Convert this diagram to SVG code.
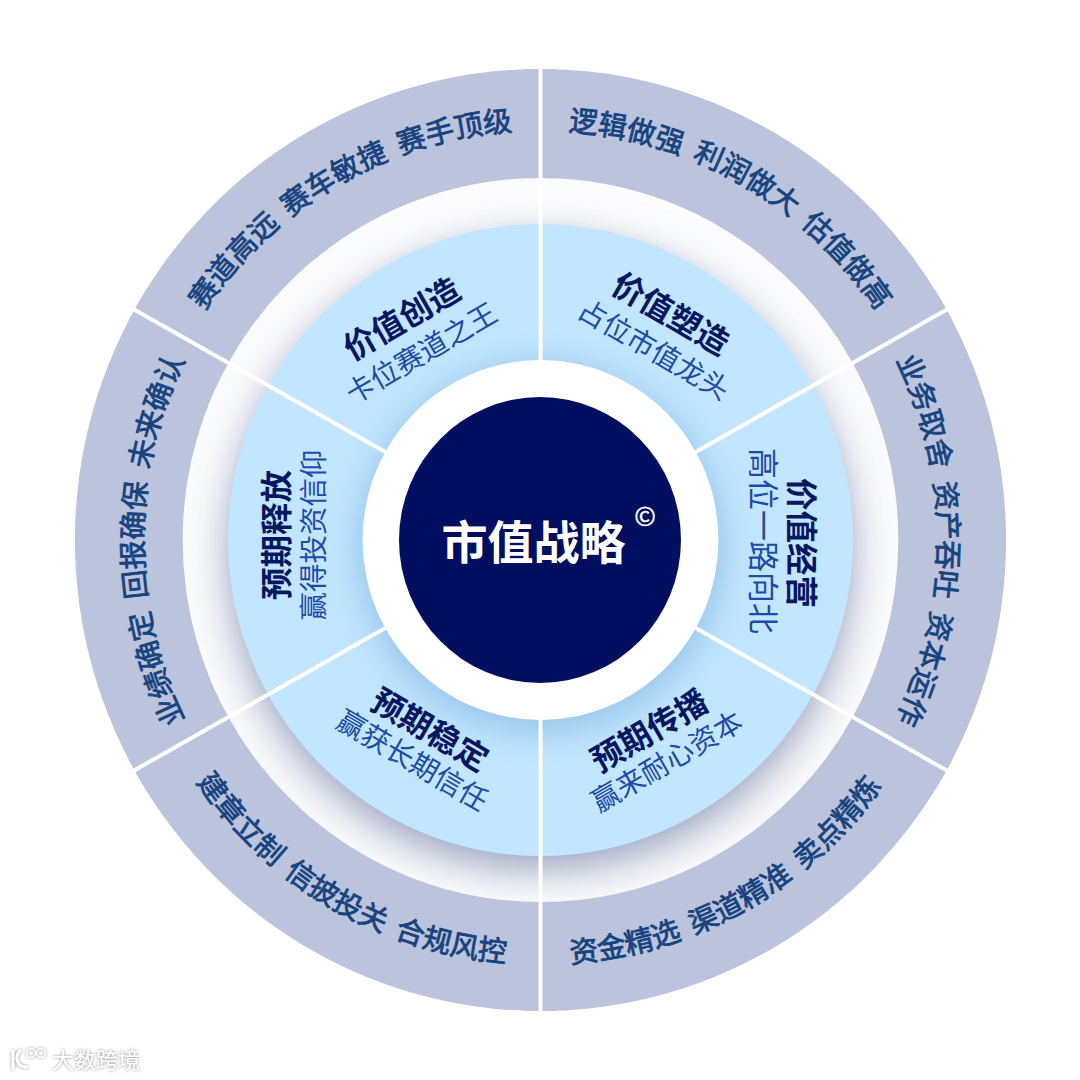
<svg xmlns="http://www.w3.org/2000/svg" width="1080" height="1080" viewBox="0 0 1080 1080">
<style>
text{font-family:"Noto Sans CJK SC","Noto Sans",sans-serif}
.sec{fill:#BBC4DC}
.out{font-size:29px;font-weight:400;fill:#17437F;stroke:#17437F;stroke-width:.8px;text-anchor:middle;word-spacing:6px}
.b{font-size:32.5px;font-weight:700;fill:#06175F;text-anchor:middle}
.s{font-size:28.5px;font-weight:400;fill:#1E4BA8;text-anchor:middle}
.div{stroke:#fff;stroke-width:4;fill:none}
.wm{font-size:22px;fill:#fff;font-weight:400}
</style>
<defs>
<path id="secShape" d="M-249.6 -399.4A471 471 0 0 1 249.6 -399.4L191.8 -307A362 362 0 0 0 -191.8 -307Z"/>
<path id="secShapeT" d="M0 -471A471 471 0 0 1 249.6 -399.4L191.8 -307A362 362 0 0 0 0 -362Z"/>
<path id="arcTop" d="M-205 -355.1A410 410 0 0 1 205 -355.1"/>
<path id="arcSide" d="M-201 -348.1A402 402 0 0 1 201 -348.1"/>
<path id="arcBot" d="M-212 367.2A424 424 0 0 0 212 367.2"/>
<filter id="blurA" x="-20%" y="-20%" width="140%" height="140%"><feGaussianBlur stdDeviation="21"/></filter>
<filter id="blurB" x="-40%" y="-40%" width="180%" height="180%"><feGaussianBlur stdDeviation="20"/></filter>
<filter id="wmS" x="-20%" y="-20%" width="140%" height="140%"><feDropShadow dx="0" dy="0" stdDeviation="1.5" flood-color="#8a8a8a"/></filter>
<clipPath id="clipWhite"><circle r="362"/></clipPath>
<clipPath id="clipBlue"><circle r="316"/></clipPath>
<clipPath id="clipRing"><path clip-rule="evenodd" d="M0 -471A471 471 0 0 1 0 471A471 471 0 0 1 0 -471ZM0 -362A362 362 0 0 0 0 362A362 362 0 0 0 0 -362Z"/></clipPath>
</defs>
<rect width="1080" height="1080" fill="#fff"/>
<g transform="translate(540.5 540) scale(.9885 1)">
<g id="rings">
<g clip-path="url(#clipWhite)">
<circle cy="14" r="316" fill="#98A1BF" filter="url(#blurA)"/>
<circle r="362" fill="none" stroke="#9aa3bf" stroke-width="10" opacity=".2" filter="url(#blurA)"/>
</g>
<circle r="316" fill="#C2E6FF"/>
<g clip-path="url(#clipBlue)"><circle cy="8" r="180" fill="#8CBDE6" filter="url(#blurB)"/></g>
<circle r="180" fill="#fff"/>
</g>
<g id="node-outer-1"><g transform="rotate(30)"><use href="#secShape" class="sec"/><text class="out"><textPath href="#arcTop" startOffset="50%">逻辑做强 利润做大 估值做高</textPath></text></g></g>
<g id="node-outer-2"><g transform="rotate(90)"><use href="#secShape" class="sec"/><text class="out"><textPath href="#arcSide" startOffset="50%">业务取舍 资产吞吐 资本运作</textPath></text></g></g>
<g id="node-outer-3"><g transform="rotate(-30)"><use href="#secShape" class="sec" transform="rotate(180)"/><text class="out"><textPath href="#arcBot" startOffset="48.9%">资金精选 渠道精准 卖点精炼</textPath></text></g></g>
<g id="node-outer-4"><g transform="rotate(30)"><use href="#secShape" class="sec" transform="rotate(180)"/><text class="out"><textPath href="#arcBot" startOffset="50%">建章立制 信披投关 合规风控</textPath></text></g></g>
<g id="node-outer-5"><g transform="rotate(-90)"><use href="#secShape" class="sec"/><text class="out"><textPath href="#arcSide" startOffset="50%">业绩确定 回报确保 未来确认</textPath></text></g></g>
<g id="node-outer-6"><g transform="rotate(-30)"><use href="#secShape" class="sec"/><text class="out"><textPath href="#arcTop" startOffset="50%">赛道高远 赛车敏捷 赛手顶级</textPath></text></g></g>
<g id="connectors">
<path class="div" d="M0 -180V-473M0 180V473M157 -88L412 -231M157 88L412 231M-157 -88L-412 -231M-157 88L-412 231"/>
</g>
<g id="node-1" transform="rotate(30)"><text class="b" y="-250" x="1">价值塑造</text><text class="s" y="-212" x="4">占位市值龙头</text></g>
<g id="node-2" transform="rotate(90)"><text class="b" y="-252" x="3">价值经营</text><text class="s" y="-214" x="1" style="font-size:31px">高位一路向北</text></g>
<g id="node-3" transform="rotate(-30)"><text class="b" y="232">预期传播</text><text class="s" y="266">赢来耐心资本</text></g>
<g id="node-4" transform="rotate(30)"><text class="b" y="232" x="-2">预期稳定</text><text class="s" y="266" x="-2">赢获长期信任</text></g>
<g id="node-5" transform="rotate(-90)"><text class="b" y="-255" x="5">预期释放</text><text class="s" y="-219" x="5">赢得投资信仰</text></g>
<g id="node-6" transform="rotate(-30)"><text class="b" y="-250" x="-11">价值创造</text><text class="s" y="-212" x="-11">卡位赛道之王</text></g>
</g>
<g id="center">
<ellipse cx="540" cy="540" rx="141" ry="143" fill="#020F60"/>
<text x="533.5" y="559" font-size="46" font-weight="700" fill="#fff" text-anchor="middle">市值战略</text>
<text x="645" y="526" font-size="26" font-weight="400" fill="#fff" stroke="#fff" stroke-width=".4" text-anchor="middle">©</text>
</g>
<g id="watermark" filter="url(#wmS)">
<path d="M13 1050V1070M21 1050C14 1056 16 1068 28 1067" fill="none" stroke="#fff" stroke-width="3"/>
<circle cx="31" cy="1053" r="4.5" fill="none" stroke="#fff" stroke-width="1.6"/>
<circle cx="41" cy="1053" r="4.5" fill="none" stroke="#fff" stroke-width="1.6"/>
<text class="wm" x="52" y="1068">大数跨境</text>
</g>
</svg>
